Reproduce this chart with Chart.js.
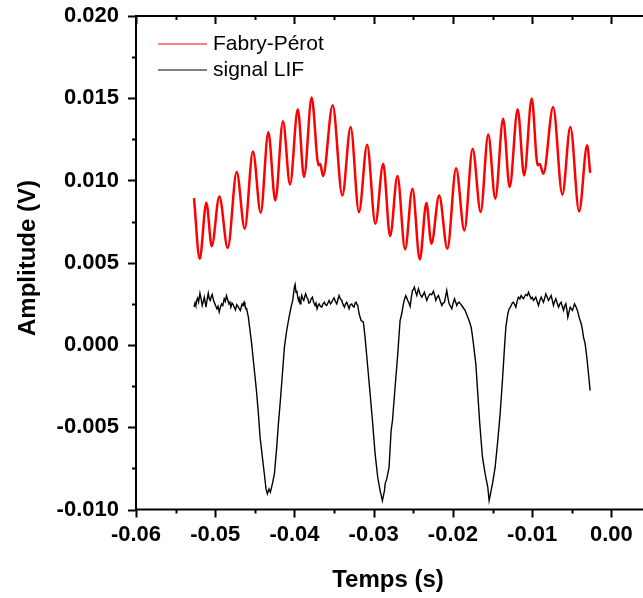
<!DOCTYPE html>
<html>
<head>
<meta charset="utf-8">
<title>Fabry-Pérot / signal LIF</title>
<script src="https://cdn.jsdelivr.net/npm/chart.js@4.4.1/dist/chart.umd.min.js"></script>
<style>
  html, body { margin: 0; padding: 0; background: #fff; overflow: hidden; }
  #wrap { position: relative; width: 651px; height: 598px; }
</style>
</head>
<body>
<div id="wrap"><canvas id="chart"></canvas></div>
<script>
/* Temps en ms, amplitude en mV : converti en s / V pour les axes */

const fabryPerot = [
  [-52.68, 8.93], [-51.96, 5.24], [-51.12, 8.65], [-50.44, 6.01], [-49.48, 9.03],
  [-48.42, 5.89], [-47.29, 10.51], [-46.28, 7.07], [-45.24, 11.77], [-44.26, 8.04],
  [-43.30, 12.94], [-42.42, 8.79], [-41.45, 13.60], [-40.56, 9.76], [-39.58, 14.33],
  [-38.79, 10.21], [-37.83, 15.04], [-36.95, 10.92], [-36.75, 11.00], [-36.39, 10.27],
  [-35.18, 14.57], [-33.96, 9.09], [-32.91, 13.25], [-31.86, 8.08], [-30.83, 12.18],
  [-29.79, 7.37], [-28.80, 11.02], [-27.93, 6.62], [-27.00, 10.27], [-26.04, 5.81],
  [-25.11, 9.50], [-24.18, 5.20], [-23.35, 8.63], [-22.71, 6.16], [-21.74, 9.09],
  [-20.70, 5.85], [-19.60, 10.75], [-18.56, 6.96], [-17.51, 11.93], [-16.50, 8.08],
  [-15.54, 12.79], [-14.65, 8.89], [-13.66, 13.76], [-12.84, 9.60], [-11.83, 14.33],
  [-11.01, 10.31], [-10.05, 14.98], [-9.30, 10.92], [-9.05, 11.00], [-8.58, 10.41],
  [-7.35, 14.47], [-6.19, 9.14], [-5.18, 13.25], [-4.07, 8.12], [-3.06, 12.14],
  [-2.68, 10.47]
];

const signalLif = [
  // plateau 1
  [-52.68, 2.30], [-52.55, 2.55], [-52.45, 2.40], [-52.35, 2.71], [-52.22, 2.85], [-52.10, 2.62],
  [-51.93, 3.15], [-51.80, 2.85], [-51.64, 2.40], [-51.50, 2.65], [-51.38, 2.90], [-51.27, 2.60],
  [-51.17, 2.30], [-51.03, 2.75], [-50.88, 3.15], [-50.75, 2.80], [-50.63, 2.71], [-50.50, 2.95],
  [-50.38, 3.07], [-50.22, 2.70], [-50.04, 2.50], [-49.92, 2.35], [-49.79, 2.20], [-49.65, 2.35],
  [-49.50, 2.00], [-49.35, 2.30], [-49.20, 2.50], [-49.05, 2.40], [-48.87, 2.81], [-48.72, 2.65],
  [-48.58, 3.00], [-48.43, 2.75], [-48.28, 2.50], [-48.15, 2.60], [-48.03, 2.30], [-47.88, 2.55],
  [-47.74, 2.46], [-47.60, 2.30], [-47.45, 2.14], [-47.28, 2.45], [-47.11, 2.34], [-46.96, 2.20],
  [-46.82, 2.10], [-46.70, 2.35], [-46.61, 2.50], [-46.48, 2.40], [-46.36, 2.60], [-46.25, 2.40],
  [-46.15, 2.26],
  // creux 1
  [-46.03, 2.20], [-45.82, 1.69], [-45.61, 0.88], [-45.40, 0.07], [-45.19, -0.94], [-44.97, -1.96],
  [-44.76, -2.97], [-44.55, -4.19], [-44.34, -5.61], [-44.05, -6.82], [-43.80, -7.84], [-43.59, -8.75],
  [-43.42, -9.05], [-43.21, -8.75], [-43.04, -8.95], [-42.79, -8.44], [-42.53, -7.84], [-42.24, -6.21],
  [-42.03, -4.80], [-41.78, -3.38], [-41.52, -1.75], [-41.27, -0.13], [-40.98, 0.88], [-40.68, 1.69],
  [-40.43, 2.30], [-40.22, 2.71], [-40.01, 3.52],
  // plateau 2
  [-39.92, 3.68], [-39.80, 3.20], [-39.71, 3.31], [-39.60, 2.95], [-39.50, 2.71], [-39.40, 2.85],
  [-39.29, 2.50], [-39.18, 2.75], [-39.08, 3.01], [-38.95, 2.80], [-38.83, 2.71], [-38.70, 2.95],
  [-38.58, 3.11], [-38.45, 2.90], [-38.32, 2.81], [-38.18, 2.55], [-38.03, 2.60], [-37.90, 2.80],
  [-37.74, 2.91], [-37.58, 2.60], [-37.40, 2.40], [-37.28, 2.55], [-37.15, 2.20], [-37.02, 2.40],
  [-36.89, 2.50], [-36.72, 2.35], [-36.56, 2.30], [-36.40, 2.50], [-36.22, 2.60], [-36.08, 2.45],
  [-35.93, 2.40], [-35.78, 2.55], [-35.63, 2.71], [-35.45, 2.50], [-35.29, 2.60], [-35.15, 2.75],
  [-35.00, 2.87], [-34.83, 2.65], [-34.66, 2.50], [-34.52, 2.75], [-34.37, 3.01], [-34.20, 2.80],
  [-34.03, 2.71], [-33.86, 2.45], [-33.69, 2.30], [-33.55, 2.50], [-33.40, 2.60], [-33.25, 2.40],
  [-33.11, 2.20], [-32.95, 2.45], [-32.77, 2.50], [-32.62, 2.35], [-32.48, 2.30], [-32.35, 2.55],
  [-32.22, 2.60], [-32.10, 2.45], [-32.01, 2.40],
  // creux 2
  [-31.84, 1.90], [-31.59, 1.49], [-31.30, 1.39], [-31.09, 0.48], [-30.75, -1.35], [-30.45, -2.97],
  [-30.16, -4.59], [-29.82, -6.62], [-29.49, -8.04], [-29.19, -8.85], [-28.90, -9.46], [-28.64, -8.85],
  [-28.56, -8.44], [-28.35, -8.14], [-28.06, -7.43], [-27.80, -5.20], [-27.63, -4.59], [-27.30, -2.57],
  [-26.96, -0.54], [-26.67, 1.49],
  // plateau 3
  [-26.46, 1.90], [-26.25, 2.50], [-26.10, 2.80], [-25.95, 3.00], [-25.82, 2.85], [-25.70, 2.70],
  [-25.55, 2.55], [-25.40, 2.34], [-25.25, 2.90], [-25.11, 3.31], [-24.98, 3.40], [-24.86, 3.52],
  [-24.70, 3.20], [-24.56, 3.01], [-24.45, 3.25], [-24.35, 3.42], [-24.15, 3.10], [-23.93, 2.91],
  [-23.77, 3.05], [-23.60, 3.21], [-23.45, 2.95], [-23.30, 2.71], [-23.10, 2.95], [-22.88, 3.11],
  [-22.68, 3.05], [-22.46, 3.27], [-22.30, 3.00], [-22.16, 2.71], [-22.00, 2.90], [-21.83, 3.01],
  [-21.62, 2.70], [-21.40, 2.40], [-21.23, 2.55], [-21.07, 2.60], [-20.92, 2.95], [-20.78, 3.31],
  [-20.62, 2.85], [-20.48, 2.50], [-20.30, 2.35], [-20.14, 2.20], [-19.97, 2.55], [-19.80, 2.81],
  [-19.65, 2.60], [-19.51, 2.40], [-19.37, 2.55], [-19.22, 2.60], [-19.05, 2.50], [-18.88, 2.40],
  [-18.68, 2.25], [-18.46, 2.10],
  // creux 3
  [-18.30, 1.90], [-18.12, 1.69], [-17.90, 1.40], [-17.70, 1.08], [-17.55, 0.60], [-17.41, 0.07],
  [-17.11, -1.15], [-16.86, -2.97], [-16.61, -4.80], [-16.27, -6.82], [-15.93, -7.84], [-15.60, -8.65],
  [-15.43, -9.46], [-15.26, -9.05], [-15.01, -8.44], [-14.67, -7.43], [-14.34, -5.81], [-14.04, -4.19],
  [-13.75, -2.16], [-13.49, -0.13], [-13.32, 1.08], [-13.07, 1.90],
  // plateau 4
  [-12.90, 2.20], [-12.75, 2.30], [-12.65, 2.40], [-12.50, 2.55], [-12.36, 2.60], [-12.20, 2.45],
  [-12.06, 2.30], [-11.90, 2.65], [-11.73, 2.91], [-11.55, 2.80], [-11.39, 3.01], [-11.25, 2.90],
  [-11.10, 2.81], [-10.95, 2.95], [-10.80, 3.07], [-10.62, 3.00], [-10.46, 3.21], [-10.30, 3.00],
  [-10.13, 2.81], [-9.98, 2.90], [-9.83, 2.71], [-9.68, 2.80], [-9.54, 2.91], [-9.37, 2.65],
  [-9.20, 2.40], [-9.03, 2.70], [-8.86, 2.91], [-8.72, 2.75], [-8.57, 2.60], [-8.42, 2.85],
  [-8.27, 3.11], [-8.10, 2.90], [-7.94, 2.71], [-7.77, 2.85], [-7.60, 3.01], [-7.45, 2.70],
  [-7.31, 2.40], [-7.16, 2.65], [-7.01, 2.81], [-6.84, 2.55], [-6.67, 2.30], [-6.50, 2.50],
  [-6.34, 2.60], [-6.19, 2.35], [-6.04, 2.10], [-5.90, 2.35], [-5.75, 2.50], [-5.62, 2.15],
  [-5.50, 1.69], [-5.35, 2.00], [-5.20, 2.30], [-5.05, 2.20], [-4.91, 2.10], [-4.78, 2.30],
  [-4.65, 2.50], [-4.50, 2.35], [-4.36, 2.20],
  // chute finale
  [-4.20, 1.95], [-4.07, 1.69], [-3.81, 1.29], [-3.65, 0.90], [-3.52, 0.48], [-3.31, 0.07],
  [-3.10, -0.74], [-2.89, -1.75], [-2.68, -2.77]
];

const seriesLabels = ['Fabry-Pérot', 'signal LIF'];
const seriesColors = ['#ff0000', '#000000'];

const xTickValues = [-0.06, -0.05, -0.04, -0.03, -0.02, -0.01, 0.00];
const xTickLabels = ['-0.06', '-0.05', '-0.04', '-0.03', '-0.02', '-0.01', '0.00'];
const xMinorTicks = [-0.055, -0.045, -0.035, -0.025, -0.015, -0.005, 0.005];

const yTickValues = [-0.010, -0.005, 0.000, 0.005, 0.010, 0.015, 0.020];
const yTickLabels = ['-0.010', '-0.005', '0.000', '0.005', '0.010', '0.015', '0.020'];
const yMinorTicks = [-0.0075, -0.0025, 0.0025, 0.0075, 0.0125, 0.0175];

const xTitle = 'Temps (s)';
const yTitle = 'Amplitude (V)';

const toPoints = (rows) => rows.map(([t, v]) => ({ x: t / 1000, y: v / 1000 }));

const FONT = '"Liberation Sans", Arial, sans-serif';

const cadrePlugin = {
  id: 'cadre',
  afterDraw(chart) {
    const { ctx, chartArea: a, scales } = chart;
    const x = scales.x;
    const y = scales.y;
    ctx.save();
    ctx.strokeStyle = '#000';
    ctx.lineWidth = 2;
    ctx.strokeRect(a.left, a.top, a.right - a.left, a.bottom - a.top);

    ctx.beginPath();
    const vTick = (v, len) => {
      const px = Math.round(x.getPixelForValue(v)) + 0.5;
      ctx.moveTo(px, a.bottom); ctx.lineTo(px, a.bottom + len);
      ctx.moveTo(px, a.top); ctx.lineTo(px, a.top + len);
    };
    const hTick = (v, len) => {
      const py = Math.round(y.getPixelForValue(v)) + 0.5;
      ctx.moveTo(a.left, py); ctx.lineTo(a.left - len, py);
      ctx.moveTo(a.right, py); ctx.lineTo(a.right - len, py);
    };
    xTickValues.forEach((v) => vTick(v, 8));
    xMinorTicks.forEach((v) => vTick(v, 4));
    yTickValues.forEach((v) => hTick(v, 8));
    yMinorTicks.forEach((v) => hTick(v, 4));
    ctx.stroke();

    // titres des axes
    ctx.fillStyle = '#000';
    ctx.font = 'bold 24px ' + FONT;
    ctx.textAlign = 'center';
    ctx.textBaseline = 'alphabetic';
    ctx.fillText(xTitle, 388, 587);
    ctx.save();
    ctx.translate(35, 258);
    ctx.rotate(-Math.PI / 2);
    ctx.fillText(yTitle, 0, 0);
    ctx.restore();

    // légende
    ctx.font = '21px ' + FONT;
    ctx.textAlign = 'left';
    ctx.textBaseline = 'middle';
    chart.data.datasets.forEach((ds, i) => {
      const ly = 44 + i * 26;
      ctx.strokeStyle = ds.borderColor;
      ctx.lineWidth = 1;
      ctx.beginPath();
      ctx.moveTo(158, ly);
      ctx.lineTo(207, ly);
      ctx.stroke();
      ctx.fillText(ds.label, 213, ly);
    });
    ctx.restore();
  }
};

new Chart(document.getElementById('chart'), {
  type: 'line',
  data: {
    datasets: [
      {
        label: seriesLabels[0],
        data: toPoints(fabryPerot),
        borderColor: seriesColors[0],
        borderWidth: 2.5,
        pointRadius: 0,
        cubicInterpolationMode: 'monotone',
        fill: false,
      },
      {
        label: seriesLabels[1],
        data: toPoints(signalLif),
        borderColor: seriesColors[1],
        borderWidth: 1.4,
        pointRadius: 0,
        tension: 0,
        fill: false,
      },
    ],
  },
  options: {
    responsive: true,
    maintainAspectRatio: false,
    animation: false,
    events: [],
    layout: { padding: { top: 16, right: 0, bottom: 0, left: 0 } },
    plugins: {
      legend: { display: false },
      tooltip: { enabled: false },
    },
    scales: {
      x: {
        type: 'linear',
        min: -0.06,
        max: 0.005,
        grid: { display: false, drawTicks: false },
        border: { display: false },
        afterBuildTicks: (scale) => { scale.ticks = xTickValues.map((v) => ({ value: v })); },
        afterFit: (scale) => {
          scale.height = 88.5;
          scale.paddingLeft = 0;
          scale.paddingRight = 0;
        },
        ticks: {
          autoSkip: false,
          maxRotation: 0,
          padding: 12,
          color: '#000',
          font: { family: FONT, size: 22, weight: 'bold' },
          callback: (value, index) => xTickLabels[index],
        },
      },
      y: {
        type: 'linear',
        min: -0.010,
        max: 0.020,
        grid: { display: false, drawTicks: false },
        border: { display: false },
        afterBuildTicks: (scale) => { scale.ticks = yTickValues.map((v) => ({ value: v })); },
        afterFit: (scale) => {
          scale.width = 136;
          scale.paddingTop = 0;
          scale.paddingBottom = 0;
        },
        ticks: {
          autoSkip: false,
          padding: 17,
          color: '#000',
          font: { family: FONT, size: 22, weight: 'bold' },
          callback: (value, index) => yTickLabels[index],
        },
      },
    },
  },
  plugins: [cadrePlugin],
});
</script>
</body>
</html>
